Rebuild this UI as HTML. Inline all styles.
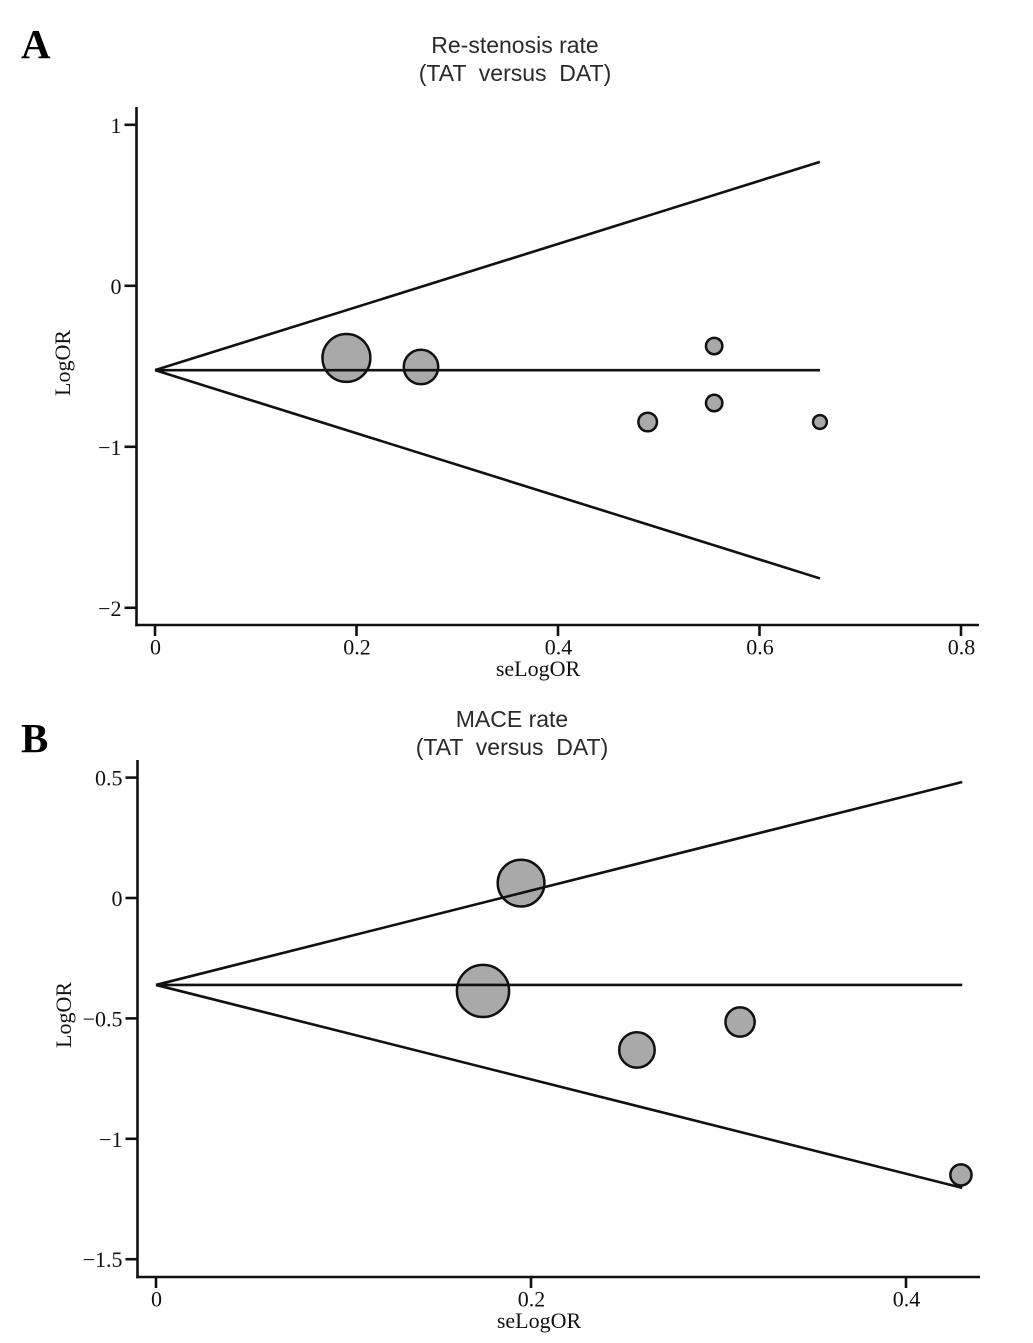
<!DOCTYPE html>
<html lang="en">
<head>
<meta charset="utf-8">
<title>Funnel plots: re-stenosis and MACE rate</title>
<style>
html,body{margin:0;padding:0;background:#fff;}
svg{display:block;}
.tick{font-family:"Liberation Serif",serif;font-size:22px;fill:#111;}
.axt{font-family:"Liberation Serif",serif;font-size:22px;fill:#111;}
.ttl{font-family:"Liberation Sans",sans-serif;font-size:23px;fill:#2a2a2a;white-space:pre;}
.pan{font-family:"Liberation Serif",serif;font-size:41px;font-weight:bold;fill:#000;}
</style>
</head>
<body>
<svg id="figure" xmlns="http://www.w3.org/2000/svg" width="1033" height="1343" viewBox="0 0 1033 1343">
  <rect x="0" y="0" width="1033" height="1343" fill="#fff"/>
  <text class="pan" x="21" y="58">A</text>
  <text class="ttl" x="515" y="53" text-anchor="middle">Re-stenosis rate</text>
  <text class="ttl" x="515" y="81" text-anchor="middle" xml:space="preserve">(TAT  versus  DAT)</text>
  <text class="axt" transform="translate(70,363) rotate(-90)" text-anchor="middle">LogOR</text>
  <text class="axt" x="538" y="676" text-anchor="middle">seLogOR</text>
  <text class="pan" x="21" y="752">B</text>
  <text class="ttl" x="512" y="727" text-anchor="middle">MACE rate</text>
  <text class="ttl" x="512" y="755" text-anchor="middle" xml:space="preserve">(TAT  versus  DAT)</text>
  <text class="axt" transform="translate(71,1015) rotate(-90)" text-anchor="middle">LogOR</text>
  <text class="axt" x="539" y="1328" text-anchor="middle">seLogOR</text>
</svg>
<script>
// Panel A: Re-stenosis rate
var seA = [0.19, 0.264, 0.555, 0.555, 0.489, 0.66];
var logOrA = [-0.448, -0.504, -0.374, -0.728, -0.846, -0.846];
var pooledA = -0.524;
var seMaxA = 0.66;
var xTicksA = [0, 0.2, 0.4, 0.6, 0.8];
var yTicksA = [1, 0, -1, -2];

// Panel B: MACE rate
var seB = [0.1947, 0.1744, 0.2565, 0.3115, 0.4293];
var logOrB = [0.062, -0.386, -0.631, -0.515, -1.15];
var pooledB = -0.361;
var seMaxB = 0.43;
var xTicksB = [0, 0.2, 0.4];
var yTicksB = [0.5, 0, -0.5, -1, -1.5];

var NS = 'http://www.w3.org/2000/svg';
var fig = document.getElementById('figure');
var INK = '#111';

function shape(tag, attrs) {
  var el = document.createElementNS(NS, tag);
  for (var k in attrs) { el.setAttribute(k, attrs[k]); }
  fig.appendChild(el);
  return el;
}
function fmt(v) {
  return String(v).replace('-', '\u2212');
}
function strokeLine(x1, y1, x2, y2, w) {
  return shape('line', { x1: x1, y1: y1, x2: x2, y2: y2, stroke: INK, 'stroke-width': w });
}

function drawPanel(id, se, logOr, pooled, seMax, xTicks, yTicks, g) {
  function sx(v) { return g.x0 + v * g.xUnit; }
  function sy(v) { return g.y0 - v * g.yUnit; }

  // study markers (radius proportional to precision, 1/se)
  se.forEach(function (s, i) {
    var c = shape('circle', { cx: sx(s), cy: sy(logOr[i]), r: 4.55 / s, fill: '#a9a9a9', stroke: INK, 'stroke-width': 2.5 });
    
    
  });

  // funnel lines
  var upper = strokeLine(sx(0), sy(pooled), sx(seMax), sy(pooled + 1.96 * seMax), 2.6);
  
  
  var lower = strokeLine(sx(0), sy(pooled), sx(seMax), sy(pooled - 1.96 * seMax), 2.6);
  
  
  var mid = strokeLine(sx(0), sy(pooled), sx(seMax), sy(pooled), 2.6);
  
  

  // axes
  var ya = strokeLine(g.axisX, g.axisTop, g.axisX, g.axisY + 1.25, 2.6);
  
  
  var xa = strokeLine(g.axisX - 1.25, g.axisY, g.axisRight, g.axisY, 2.6);
  
  

  yTicks.forEach(function (v) {
    var t = strokeLine(g.axisX - 12, sy(v), g.axisX, sy(v), 2.6);
    
    
    var lab = shape('text', { x: g.axisX - 15, y: sy(v) + 8, 'text-anchor': 'end', 'class': 'tick' });
    lab.textContent = fmt(v);
    
    
  });

  xTicks.forEach(function (v) {
    var t = strokeLine(sx(v), g.axisY, sx(v), g.axisY + 11, 2.6);
    
    
    var lab = shape('text', { x: sx(v) + 0.5, y: g.axisY + 29.5, 'text-anchor': 'middle', 'class': 'tick' });
    lab.textContent = fmt(v);
    
    
  });
}

drawPanel('a', seA, logOrA, pooledA, seMaxA, xTicksA, yTicksA, {
  x0: 155, xUnit: 1007.5, y0: 285.8, yUnit: 161,
  axisX: 136.5, axisY: 625, axisTop: 107, axisRight: 979
});
drawPanel('b', seB, logOrB, pooledB, seMaxB, xTicksB, yTicksB, {
  x0: 156, xUnit: 1875, y0: 898, yUnit: 240.8,
  axisX: 137.5, axisY: 1277, axisTop: 760, axisRight: 980
});
</script>
</body>
</html>
